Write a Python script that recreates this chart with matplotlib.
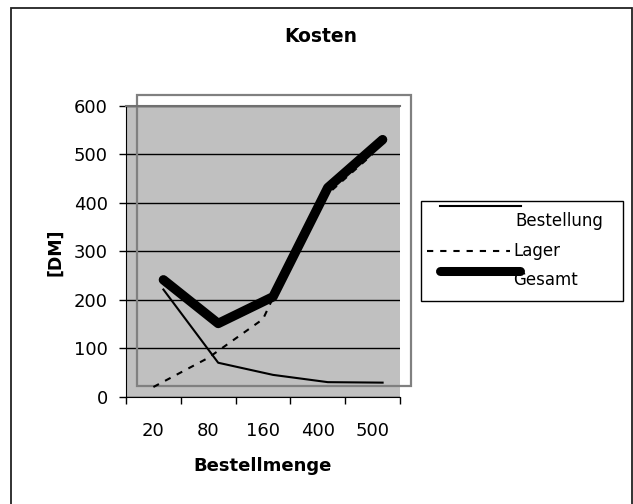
import matplotlib
matplotlib.use("Agg")
import matplotlib.pyplot as plt
from matplotlib.lines import Line2D
from matplotlib.patches import Rectangle
from matplotlib.transforms import offset_copy
import numpy as np

categories = ["20", "80", "160", "400", "500"]
bestellung = [221, 70, 45, 30, 29]
lager = [20, 80, 160, 400, 500]
gesamt = [241, 151, 206, 431, 530]
yticks = [0, 100, 200, 300, 400, 500, 600]

plt.rcParams['font.family'] = ['DejaVu Sans']
plt.rcParams['lines.scale_dashes'] = False

W, H = 633, 504
fig = plt.figure(figsize=(W / 100, H / 100), dpi=100)
fig.patch.set_facecolor('white')

def fx(px):
    return px / W

def fy(py):
    return 1 - py / H

# outer chart border
fig.add_artist(Rectangle((fx(11), fy(505)), fx(632) - fx(11), fy(8) - fy(505),
                         transform=fig.transFigure, fill=False,
                         edgecolor='#222222', linewidth=1.3))

ax = fig.add_axes([fx(126), fy(396.7), fx(400) - fx(126), fy(105.7) - fy(396.7)])
ax.set_facecolor('#C0C0C0')
x = np.arange(len(categories))
ax.set_xlim(-0.5, len(categories) - 0.5)
ax.set_ylim(0, 600)

ax.set_yticks(yticks)
ax.set_yticklabels([str(v) for v in yticks])
ax.set_xticks(np.arange(-0.5, len(categories), 1.0))
ax.set_xticklabels([])
ax.set_xticks(x, minor=True)
ax.set_xticklabels(categories, minor=True)
ax.tick_params(axis='x', which='major', direction='out', length=5, width=1, color='black')
ax.tick_params(axis='x', which='minor', length=0, pad=18.5, labelsize=13)
ax.tick_params(axis='y', direction='out', length=5, width=1, color='black', pad=8, labelsize=13)

ax.grid(axis='y', color='black', linewidth=1)
ax.set_axisbelow(True)
ax.spines['right'].set_visible(False)
ax.spines['top'].set_color('#707070')
ax.spines['top'].set_linewidth(1.5)
ax.spines['left'].set_color('black')
ax.spines['bottom'].set_color('black')

# plot-area frame (offset, Excel-like)
frame = Rectangle((fx(136.8), fy(385.8)), fx(411) - fx(136.8), fy(94.8) - fy(385.8),
                  transform=fig.transFigure, fill=False, edgecolor='#808080',
                  linewidth=1.6, zorder=1.5, clip_on=False)
ax.add_artist(frame)

shift = offset_copy(ax.transData, fig=fig, x=10, y=0, units='dots')
ax.plot(x, lager, color='black', linewidth=1.5, linestyle=(0, (4.5, 5)), zorder=3,
        clip_on=False)
ax.plot(x, bestellung, color='black', linewidth=1.5, transform=shift, zorder=3,
        clip_on=False)
ax.plot(x, gesamt, color='black', linewidth=6.8, solid_capstyle='round',
        solid_joinstyle='round', transform=shift, zorder=4, clip_on=False)

# texts
fig.text(fx(321), fy(37), "Kosten", ha='center', va='center', fontsize=13.5, fontweight='bold')
fig.text(fx(263), fy(466), "Bestellmenge", ha='center', va='center', fontsize=13,
         fontweight='bold')
fig.text(fx(55), fy(252), "[DM]", ha='center', va='center', fontsize=12.5,
         fontweight='bold', rotation=90)

# legend (Excel-like)
fig.add_artist(Rectangle((fx(421), fy(301)), fx(622.7) - fx(421), fy(200.7) - fy(301),
                         transform=fig.transFigure, fill=True, facecolor='white',
                         edgecolor='black', linewidth=1))
fig.add_artist(Line2D([fx(439.5), fx(520.5)], [fy(205.7), fy(205.7)],
                      transform=fig.transFigure, color='black', linewidth=1.5))
fig.add_artist(Line2D([fx(426.5), fx(510)], [fy(250.5), fy(250.5)],
                      transform=fig.transFigure, color='black', linewidth=1.5,
                      linestyle=(0, (4.5, 5))))
fig.add_artist(Line2D([fx(440), fx(519.5)], [fy(271), fy(271)],
                      transform=fig.transFigure, color='black', linewidth=6.5,
                      solid_capstyle='round'))
fig.text(fx(515.5), fy(220.7), "Bestellung", ha='left', va='center', fontsize=12)
fig.text(fx(513.5), fy(251.5), "Lager", ha='left', va='center', fontsize=12)
fig.text(fx(513.5), fy(280), "Gesamt", ha='left', va='center', fontsize=12)

fig.savefig("out.png", dpi=100)
